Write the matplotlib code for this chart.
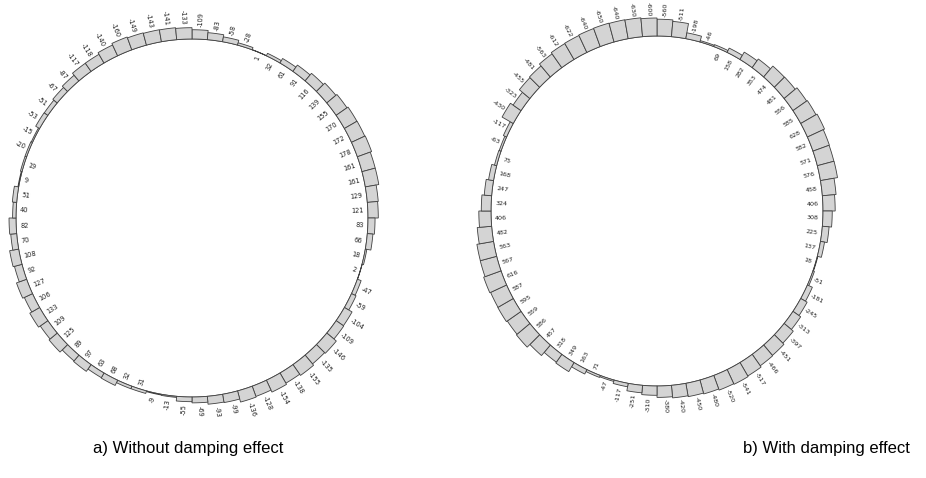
import numpy as np
import matplotlib
matplotlib.use('Agg')
import matplotlib.pyplot as plt
from matplotlib.patches import Polygon, Ellipse

# Values listed clockwise, first bar just right of 12 o'clock (72 bars, 5 deg each)
values_a = [-109, -83, -58, -28, 1, 32, 61, 91, 116, 139, 155, 170, 172, 178,
            161, 161, 129, 121, 83, 66, 18, 2, -47, -59, -104, -109, -146, -135,
            -155, -138, -154, -128, -136, -99, -93, -69, -55, -13, -9, 31, 32, 68,
            63, 97, 89, 125, 109, 133, 106, 127, 92, 108, 70, 82, 40, 51, 9, 19,
            -20, -15, -53, -51, -67, -87, -117, -118, -140, -160, -149, -143, -141, -133]

values_b = [-560, -511, -198, -46, 69, 158, 282, 353, 474, 481, 556, 585, 628, 582,
            571, 576, 458, 406, 308, 225, 137, 18, -51, -181, -245, -313, -397, -451,
            -466, -517, -541, -520, -480, -450, -420, -380, -310, -251, -117, -47,
            71, 163, 349, 318, 457, 586, 559, 595, 587, 616, 567, 563, 482, 406,
            324, 247, 168, 75, -63, -117, -430, -323, -455, -481, -563, -612,
            -622, -640, -650, -640, -630, -600]

captions = ["a) Without damping effect", "b) With damping effect"]

W, H = 926, 478
fig = plt.figure(figsize=(W / 100, H / 100), dpi=100)
ax = fig.add_axes([0, 0, 1, 1])
ax.set_xlim(0, W)
ax.set_ylim(H, 0)
ax.axis('off')


def ring(vals, cx, cy, rx, ry, k, fs, gap):
    n = len(vals)
    step = 360.0 / n
    ax.add_patch(Ellipse((cx, cy), 2 * rx, 2 * ry, fill=False, ec='#444444', lw=0.6))
    for i, v in enumerate(vals):
        th = 90 - step / 2 - step * i
        h = abs(v) * k
        ts = np.radians(np.linspace(th - step / 2, th + step / 2, 8))
        inner = [(cx + rx * np.cos(t), cy - ry * np.sin(t)) for t in ts]
        outer = [(cx + (rx + h) * np.cos(t), cy - (ry + h) * np.sin(t)) for t in ts[::-1]]
        ax.add_patch(Polygon(inner + outer, closed=True, fc='#d4d4d4', ec='#404040', lw=0.6))
        t = np.radians(th)
        right = np.cos(t) >= 0
        rot = th if right else th - 180
        if v < 0:
            off = h + gap
            ha = 'left' if right else 'right'
        else:
            off = -4
            ha = 'right' if right else 'left'
        x = cx + (rx + off) * np.cos(t)
        y = cy - (ry + off) * np.sin(t)
        ax.text(x, y, str(v), rotation=rot, rotation_mode='anchor', ha=ha, va='center',
                fontsize=fs, color='#222222')


ring(values_a, 192, 218, 176, 179, 0.085, 4.8, 3)
ring(values_b, 657, 211, 166, 175, 0.03, 4.6, 2)

ax.text(188, 448, captions[0], ha='center', va='center', fontsize=12,
        family='Liberation Sans')
ax.text(826, 448, captions[1], ha='center', va='center', fontsize=12,
        family='Liberation Sans')

fig.savefig('out.png', dpi=100)
